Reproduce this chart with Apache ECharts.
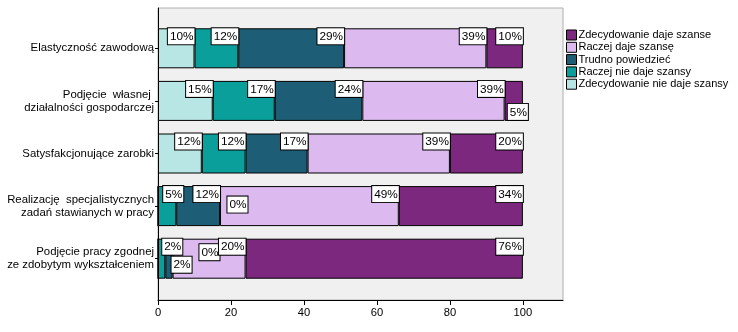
<!DOCTYPE html>
<html><head><meta charset="utf-8">
<script src="https://cdn.jsdelivr.net/npm/echarts@6/dist/echarts.min.js"></script>
<style>html,body{margin:0;padding:0;background:#fff}#c{width:738px;height:332px}</style>
</head><body><div id="c"></div>
<script>
const categories = [
  'Elastyczność zawodową',
  'Podjęcie  własnej \ndziałalności gospodarczej',
  'Satysfakcjonujące zarobki',
  'Realizację  specjalistycznych\nzadań stawianych w pracy',
  'Podjęcie pracy zgodnej\nze zdobytym wykształceniem'
];
const seriesNames = ['Zdecydowanie nie daje szansy','Raczej nie daje szansy','Trudno powiedzieć','Raczej daje szansę','Zdecydowanie daje szanse'];
const zdecNie   = [10, 15, 12, 0, 0];
const raczejNie = [12, 17, 12, 5, 2];
const trudno    = [29, 24, 17, 12, 2];
const raczejTak = [39, 39, 39, 49, 20];
const zdecTak   = [10, 5, 20, 34, 76];
const xTicks = [0, 20, 40, 60, 80, 100];

const colors = ['#b8e6e5', '#0a9f9a', '#1d5e76', '#dcbaf0', '#7c287e'];
const seriesValues = [zdecNie, raczejNie, trudno, raczejTak, zdecTak];
// label displacement (style only) for crowded labels: key "series-row"
const labelShift = {'4-1':[5,23], '0-3':[89,11], '1-3':[7,0], '0-4':[61,6], '1-4':[17,0], '2-4':[19,18]};

const series = seriesValues.map((vals, si) => ({
  name: seriesNames[si], type: 'bar', stack: 'all', xAxisIndex: 1, yAxisIndex: 1,
  barWidth: 40,
  itemStyle: {color: colors[si], borderColor: '#000', borderWidth: 1},
  data: vals.map((v, ri) => {
    const d = {value: v};
    const sh = labelShift[si + '-' + ri];
    if (sh) d.label = {offset: sh};
    return d;
  }),
  label: {
    show: true, position: 'insideTopRight', distance: 0,
    formatter: p => p.value + '%',
    color: '#000', fontFamily: 'Arial, Liberation Sans', fontSize: 11.8,
    backgroundColor: '#fff', borderColor: '#000', borderWidth: 1,
    padding: [2, 1, 1, 2], lineHeight: 13
  },
  emphasis: {disabled: true},
  animation: false
}));

const chart = echarts.init(document.getElementById('c'), null, {renderer: 'canvas'});
chart.setOption({
  animation: false,
  textStyle: {fontFamily: 'Arial, Liberation Sans'},
  grid: [
    {left: 158, right: 175, top: 8, bottom: 32, show: true, backgroundColor: '#f0f0f0', borderColor: '#b0b0b0', borderWidth: 1, outerBoundsMode: 'none', containLabel: false},
    {left: 158, right: 175, top: 22, bottom: 47, outerBoundsMode: 'none', containLabel: false}
  ],
  xAxis: [
    {gridIndex: 0, type: 'value', min: 0, max: 111, interval: 20,
      axisLine: {show: true, lineStyle: {color: '#000'}},
      axisTick: {show: true, length: 5, lineStyle: {color: '#000'}},
      axisLabel: {color: '#000', fontSize: 11.2, margin: 7, showMaxLabel: false,
        formatter: v => xTicks.includes(v) ? String(v) : ''},
      splitLine: {show: false}},
    {gridIndex: 1, type: 'value', min: 0, max: 111, show: false, splitLine: {show: false}}
  ],
  yAxis: [
    {gridIndex: 0, type: 'value', min: 0, max: 1,
      axisLine: {show: true, lineStyle: {color: '#000'}},
      axisTick: {show: false}, axisLabel: {show: false}, splitLine: {show: false}},
    {gridIndex: 1, type: 'category', data: categories, inverse: true,
      axisLine: {show: false},
      axisTick: {show: true, alignWithLabel: true, length: 3, lineStyle: {color: '#000'}},
      axisLabel: {color: '#000', fontSize: 11.4, margin: 4, lineHeight: 13, align: 'right'}}
  ],
  legend: {
    orient: 'vertical', left: 566, top: 29, padding: 0,
    data: seriesNames.slice().reverse(),
    itemWidth: 10, itemHeight: 10, itemGap: 0.3, icon: 'rect',
    itemStyle: {borderColor: '#000', borderWidth: 1},
    textStyle: {color: '#000', fontSize: 11, lineHeight: 12, padding: [0, 0, 0, -3], overflow: 'none'},
    selectedMode: false
  },
  series: series
});
</script></body></html>
